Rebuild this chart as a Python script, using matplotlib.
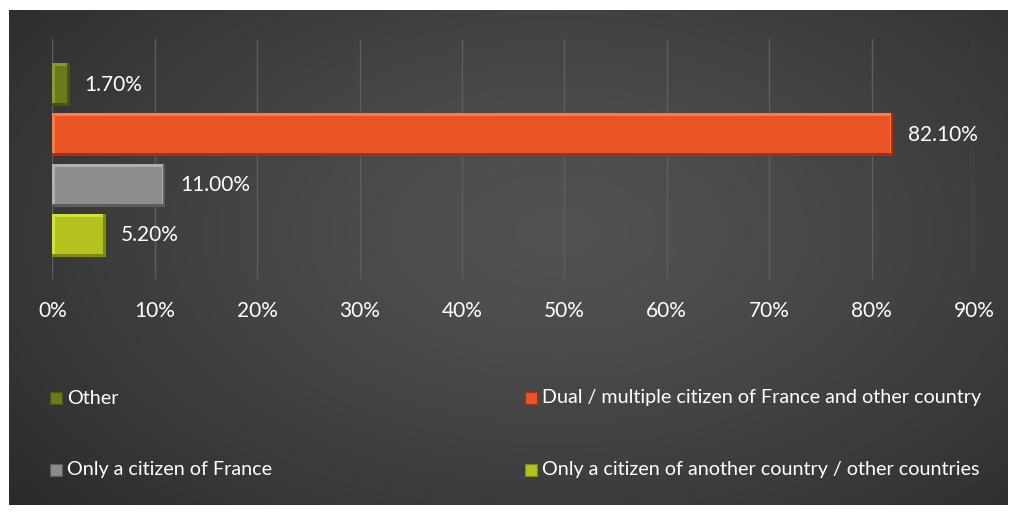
import numpy as np
import matplotlib
matplotlib.use("Agg")
import matplotlib.pyplot as plt
from matplotlib.patches import Rectangle

categories = ["Other", "Dual / multiple citizen of France and other country",
              "Only a citizen of France", "Only a citizen of another country / other countries"]
values = [1.7, 82.1, 11.0, 5.2]
value_labels = ["1.70%", "82.10%", "11.00%", "5.20%"]
xticks = [0, 10, 20, 30, 40, 50, 60, 70, 80, 90]
xtick_labels = ["0%", "10%", "20%", "30%", "40%", "50%", "60%", "70%", "80%", "90%"]

colors = ["#6b7a1c", "#ea5323", "#8c8c8c", "#b3c21e"]
light = ["#8a9a2c", "#ff7a45", "#b0b0b0", "#d4e23a"]
dark = ["#4a5410", "#a8300f", "#5c5c5c", "#7f8a10"]

plt.rcParams['font.family'] = ['Lato', 'DejaVu Sans']

W, H = 1017, 514
fig = plt.figure(figsize=(W / 100, H / 100), dpi=100)
fig.patch.set_facecolor("white")

# background panel with radial-ish gradient
bx0, by0, bx1, by1 = 9, 10, 1008, 505
bg = fig.add_axes([bx0 / W, 1 - by1 / H, (bx1 - bx0) / W, (by1 - by0) / H])
bg.set_axis_off()
yy, xx = np.mgrid[0:1:300j, 0:1:600j]
d = np.sqrt(((xx - 0.55) / 0.75) ** 2 + ((yy - 0.45) / 0.9) ** 2)
img = 0x52 - (0x52 - 0x28) * np.clip(d, 0, 1) ** 1.3
img = np.clip(img, 0, 255) / 255
bg.imshow(np.dstack([img, img, img]), aspect="auto", extent=[0, 1, 0, 1], interpolation="bilinear")

# main plot area
px0, px1 = 52.3, 974.0
py0, py1 = 39, 279
ax = fig.add_axes([px0 / W, 1 - py1 / H, (px1 - px0) / W, (py1 - py0) / H])
ax.set_facecolor("none")
ax.patch.set_alpha(0)
ax.set_xlim(0, 90)
ax.set_ylim(3.87, -0.91)
for s in ax.spines.values():
    s.set_visible(False)
ax.set_yticks([])
ax.set_xticks(xticks)
ax.set_xticklabels(xtick_labels, color="white", fontsize=15)
ax.tick_params(axis="x", length=0, pad=16)
ax.grid(axis="x", color="#5e5e5e", linewidth=1)
ax.set_axisbelow(True)

pos = np.arange(len(values))
h = 0.86
# outer (dark, shadow side)
ax.barh(pos, values, height=h, color=dark, edgecolor="none", zorder=3)
xr = 90 / (px1 - px0)  # data units per pixel (x)
yr = 1 / 50.0  # data units per pixel (y)
for i, v in enumerate(values):
    inset_x = min(3 * xr, v * 0.2)
    # light bevel on top/left
    ax.add_patch(Rectangle((0, i - h / 2), v - inset_x * 0.8, h - 3 * yr,
                           facecolor=light[i], edgecolor="none", zorder=3.5))
    # face
    ax.add_patch(Rectangle((inset_x, i - h / 2 + 3 * yr), v - 2 * inset_x, h - 6 * yr,
                           facecolor=colors[i], edgecolor="none", zorder=4))
    ax.text(v + 15 * xr, i, value_labels[i], color="white", fontsize=15,
            va="center", ha="left", zorder=5)

# legend (row-major, two columns), positioned in pixels
leg_pos = [(50, 398), (525, 398), (50, 470), (525, 470)]
for i, (lx, ly) in enumerate(leg_pos):
    fig.patches.append(Rectangle((lx / W, 1 - (ly + 6) / H), 12 / W, 12 / H,
                                 transform=fig.transFigure, facecolor=colors[i],
                                 edgecolor=dark[i], linewidth=0.8))
    fig.text((lx + 17) / W, 1 - ly / H, categories[i], color="white",
             fontsize=14.2, va="center", ha="left")

fig.savefig("out.png", dpi=100, facecolor="white")
